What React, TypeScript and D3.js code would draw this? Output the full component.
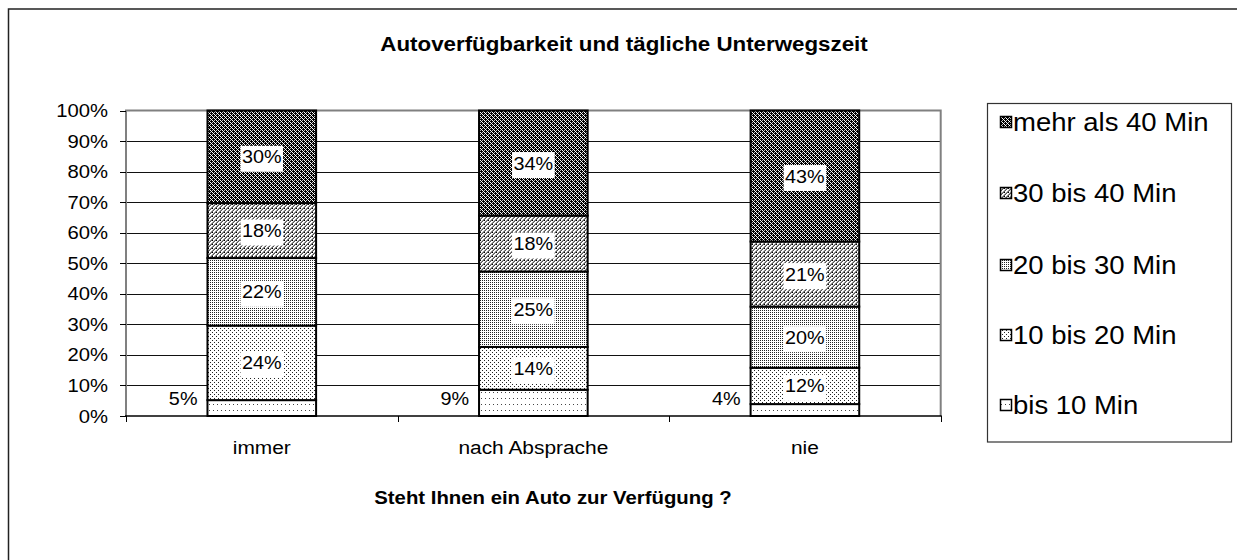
import React, { useEffect } from "react";
import * as d3 from "d3";

const categories = ["immer", "nach Absprache", "nie"];
const seriesNames = ["bis 10 Min", "10 bis 20 Min", "20 bis 30 Min", "30 bis 40 Min", "mehr als 40 Min"];
const bis10 = [5.2, 8.6, 3.9];
const von10bis20 = [24.4, 14.0, 11.9];
const von20bis30 = [22.1, 24.7, 20.0];
const von30bis40 = [18.0, 18.3, 21.3];
const mehr40 = [30.3, 34.4, 42.9];
const yTicks = [0, 10, 20, 30, 40, 50, 60, 70, 80, 90, 100];
const title = "Autoverfügbarkeit und tägliche Unterwegszeit";
const xTitle = "Steht Ihnen ein Auto zur Verfügung ?";

const SX = 1.1;
const FONT = "'Liberation Sans', Arial, Helvetica, sans-serif";

const seriesValues = [bis10, von10bis20, von20bis30, von30bis40, mehr40];
const patternIds = ["p0", "p1", "p2", "p3", "p4"];

function T(props: any) {
  const { x, y, size, anchor = "start", bold = false, children } = props;
  return (
    <text
      transform={`translate(${x},${y}) scale(${SX},1)`}
      fontSize={size}
      textAnchor={anchor}
      fontWeight={bold ? "bold" : "normal"}
      fontFamily={FONT}
      fill="#000"
    >
      {children}
    </text>
  );
}

function estW(s: string, size: number) {
  let w = 0;
  for (const c of s) w += c === "%" ? 0.889 : 0.556;
  return w * size * SX;
}

export default function App() {
  useEffect(() => {
    document.body.style.margin = "0";
    document.body.style.overflow = "hidden";
  }, []);

  const L = 126, R = 940.7, TOP = 110.5, BOT = 416;
  const x = d3.scaleBand<string>().domain(categories).range([L, R]).paddingInner(0).paddingOuter(0);
  const y = d3.scaleLinear().domain([0, 100]).range([BOT, TOP]);
  const bw = x.bandwidth() * 0.4;

  const rows = categories.map((c, i) => {
    const o: any = { cat: c };
    seriesNames.forEach((s, j) => (o[s] = seriesValues[j][i]));
    return o;
  });
  const stacked = d3.stack<any>().keys(seriesNames)(rows);

  const crisp = (v: number) => Math.round(v) + 0.5;
  const lblSize = 18;
  const tickSize = 18.4;

  const legendY = [122, 193, 265, 335, 405];

  return (
    <svg width={1237} height={560} style={{ display: "block", background: "#fff" }}>
      <defs>
        <pattern id="p4" width={4} height={4} patternUnits="userSpaceOnUse">
          <rect width={4} height={4} fill="#000" />
          <rect x={0} y={0} width={1} height={1} fill="#fff" />
          <rect x={1} y={1} width={1} height={1} fill="#fff" />
          <rect x={2} y={2} width={1} height={1} fill="#fff" />
          <rect x={3} y={3} width={1} height={1} fill="#fff" />
          <rect x={2} y={0} width={1} height={1} fill="#bbb" />
          <rect x={0} y={2} width={1} height={1} fill="#bbb" />
        </pattern>
        <pattern id="p3" width={4} height={4} patternUnits="userSpaceOnUse">
          <rect width={4} height={4} fill="#fff" />
          <rect x={3} y={0} width={1} height={1} fill="#555" />
          <rect x={2} y={1} width={1} height={1} fill="#555" />
          <rect x={1} y={2} width={1} height={1} fill="#555" />
          <rect x={0} y={3} width={1} height={1} fill="#555" />
          <rect x={2} y={0} width={1} height={1} fill="#999" />
          <rect x={1} y={1} width={1} height={1} fill="#999" />
          <rect x={0} y={2} width={1} height={1} fill="#999" />
          <rect x={3} y={3} width={1} height={1} fill="#999" />
          <rect x={0} y={0} width={1} height={1} fill="#000" />
        </pattern>
        <pattern id="p2" width={2} height={2} patternUnits="userSpaceOnUse">
          <rect width={2} height={2} fill="#fff" />
          <rect x={0} y={0} width={1} height={1} fill="#222" />
        </pattern>
        <pattern id="p1" width={4} height={4} patternUnits="userSpaceOnUse">
          <rect width={4} height={4} fill="#fff" />
          <rect x={0} y={0} width={1} height={1} fill="#222" />
          <rect x={2} y={2} width={1} height={1} fill="#222" />
        </pattern>
        <pattern id="p0" width={4} height={6} patternUnits="userSpaceOnUse">
          <rect width={4} height={6} fill="#fff" />
          <rect x={1} y={2} width={1} height={1} fill="#444" />
        </pattern>
      </defs>
      <g>
        {/* outer frame */}
        <rect x={8.5} y={9} width={1300} height={700} fill="none" stroke="#222" strokeWidth={1.5} />

        <T x={624} y={51} size={20.3} anchor="middle" bold>{title}</T>

        {/* gridlines */}
        {yTicks.filter(t => t > 0 && t < 100).map(t => (
          <line key={t} x1={L} x2={R} y1={crisp(y(t))} y2={crisp(y(t))} stroke="#111" strokeWidth={1} />
        ))}
        {/* plot frame top/right/left */}
        <path d={`M${L},${BOT} V${TOP} H${R} V${BOT}`} fill="none" stroke="#808080" strokeWidth={2} />
        {/* bottom axis */}
        <line x1={L - 1} x2={R + 1} y1={BOT} y2={BOT} stroke="#000" strokeWidth={1.5} />
        {/* y ticks */}
        {yTicks.map(t => (
          <g key={t}>
            <line x1={L - 6} x2={L} y1={crisp(y(t))} y2={crisp(y(t))} stroke="#000" strokeWidth={1} />
            <T x={108} y={y(t) + 6.5} size={tickSize} anchor="end">{`${t}%`}</T>
          </g>
        ))}
        {/* x ticks */}
        {[...categories.map(c => x(c)!), R].map((v, i) => (
          <line key={i} x1={crisp(v)} x2={crisp(v)} y1={BOT} y2={BOT + 6} stroke="#000" strokeWidth={1} />
        ))}
        {categories.map(c => (
          <T key={c} x={x(c)! + x.bandwidth() / 2} y={454} size={19} anchor="middle">{c}</T>
        ))}
        <T x={553} y={504} size={18.5} anchor="middle" bold>{xTitle}</T>

        {/* bars */}
        {stacked.map((s, j) => (
          <g key={s.key}>
            {s.map((d, i) => {
              const cx = x(categories[i])! + x.bandwidth() / 2;
              return (
                <rect key={i} x={cx - bw / 2} y={y(d[1])} width={bw} height={y(d[0]) - y(d[1])}
                  fill={`url(#${patternIds[j]})`} stroke="#000" strokeWidth={2} />
              );
            })}
          </g>
        ))}
        {/* labels */}
        {stacked.map((s, j) => (
          <g key={"l" + s.key}>
            {s.map((d, i) => {
              const cx = x(categories[i])! + x.bandwidth() / 2;
              const v = seriesValues[j][i];
              const txt = `${Math.round(v)}%`;
              const h = y(d[0]) - y(d[1]);
              const w = estW(txt, lblSize);
              const outside = h < 30;
              const tc = outside ? y(0) - 18 : (y(d[0]) + y(d[1])) / 2;
              const tx = outside ? cx - bw / 2 - 10 - w / 2 : cx;
              return (
                <g key={i}>
                  <rect x={tx - w / 2 - 1.5} y={tc - 11} width={w + 3} height={26} fill="#fff" />
                  <T x={tx} y={tc + 6.5} size={lblSize} anchor="middle">{txt}</T>
                </g>
              );
            })}
          </g>
        ))}

        {/* legend */}
        <rect x={987.5} y={103.5} width={244} height={338.5} fill="#fff" stroke="#333" strokeWidth={1.2} />
        {[...seriesNames].reverse().map((s, k) => {
          const j = seriesNames.length - 1 - k;
          const cy = legendY[k];
          return (
            <g key={s}>
              <rect x={1000.5} y={cy - 5.5} width={11} height={11} fill={`url(#${patternIds[j]})`} stroke="#000" strokeWidth={1.5} />
              <T x={1013} y={cy + 9} size={25}>{s}</T>
            </g>
          );
        })}
      </g>
    </svg>
  );
}
